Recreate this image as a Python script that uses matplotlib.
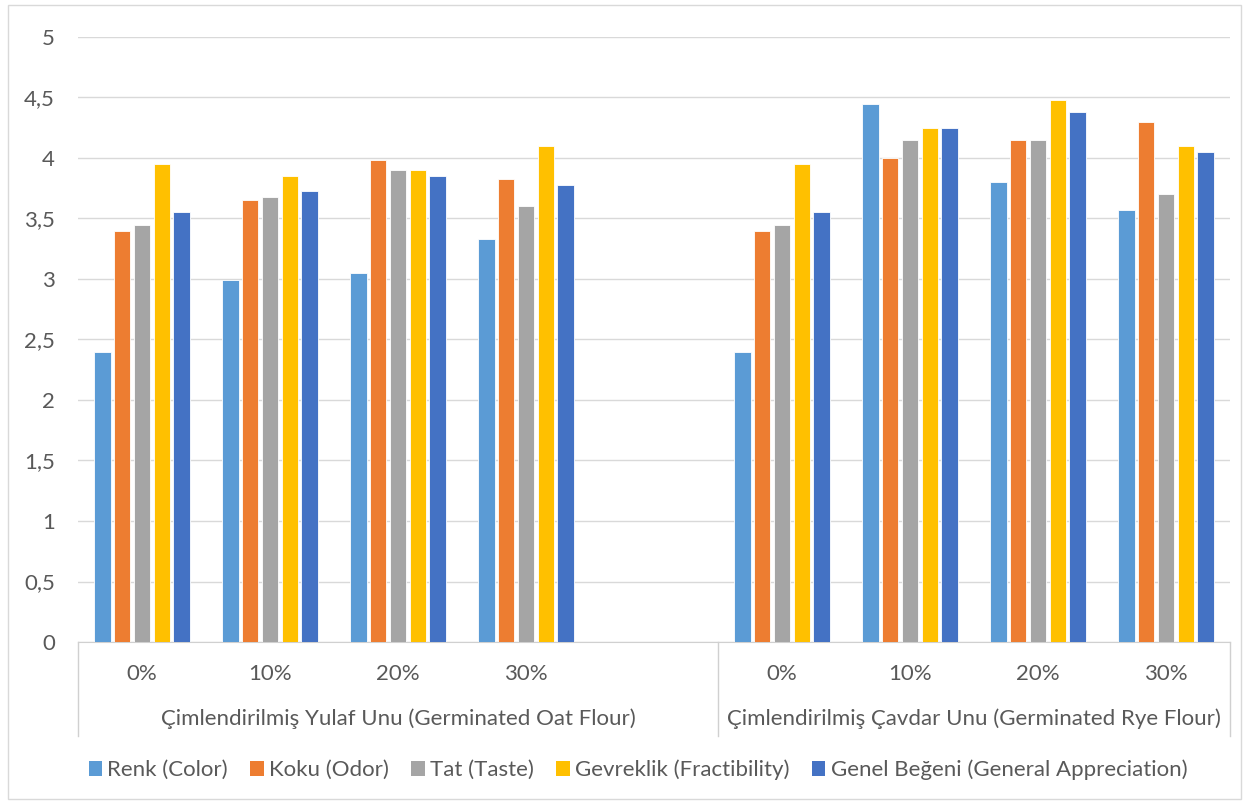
import numpy as np
import matplotlib
matplotlib.use('Agg')
import matplotlib.pyplot as plt
import matplotlib.transforms as mtransforms
from matplotlib.patches import Patch, Rectangle

plt.rcParams['font.family'] = ['Lato', 'DejaVu Sans']

levels = ['0%', '10%', '20%', '30%']
groups = ['Çimlendirilmiş Yulaf Unu (Germinated Oat Flour)',
          'Çimlendirilmiş Çavdar Unu (Germinated Rye Flour)']
series = ['Renk (Color)', 'Koku (Odor)', 'Tat (Taste)',
          'Gevreklik (Fractibility)', 'Genel Beğeni (General Appreciation)']
colors = ['#5B9BD5', '#ED7D31', '#A5A5A5', '#FFC000', '#4472C4']

# oat flour, one list per attribute (0%, 10%, 20%, 30%)
oat_renk = [2.40, 2.99, 3.05, 3.33]
oat_koku = [3.40, 3.65, 3.98, 3.83]
oat_tat = [3.45, 3.68, 3.90, 3.60]
oat_gevreklik = [3.95, 3.85, 3.90, 4.10]
oat_genel = [3.55, 3.73, 3.85, 3.78]

# rye flour
rye_renk = [2.40, 4.45, 3.80, 3.57]
rye_koku = [3.40, 4.00, 4.15, 4.30]
rye_tat = [3.45, 4.15, 4.15, 3.70]
rye_gevreklik = [3.95, 4.25, 4.48, 4.10]
rye_genel = [3.55, 4.25, 4.38, 4.05]

oat = [oat_renk, oat_koku, oat_tat, oat_gevreklik, oat_genel]
rye = [rye_renk, rye_koku, rye_tat, rye_gevreklik, rye_genel]

FS = 16
TXT = '#595959'

W, H = 1250, 805
fig = plt.figure(figsize=(W / 100, H / 100), dpi=100)
fig.patches.append(Rectangle((8 / W, 6 / H), 1233 / W, 794 / H, transform=fig.transFigure,
                             fill=False, edgecolor='#d9d9d9', lw=1))

left, right, top, bottom = 78, 1230, 37, 642
ax = fig.add_axes([left / W, 1 - bottom / H, (right - left) / W, (bottom - top) / H])

# oat categories 0..3, an empty slot at 4, rye categories 5..8
x_oat = np.arange(4)
x_rye = np.arange(5, 9)
pitch = 0.154
width = 0.128
for i in range(5):
    off = (i - 2) * pitch
    ax.bar(x_oat + off, oat[i], width, color=colors[i], edgecolor='white', lw=0.6, zorder=3)
    ax.bar(x_rye + off, rye[i], width, color=colors[i], edgecolor='white', lw=0.6, zorder=3)

ax.set_xlim(-0.5, 8.5)
ax.set_ylim(0, 5)
ax.set_yticks(np.arange(0, 5.01, 0.5))
ax.set_yticklabels(['0', '0,5', '1', '1,5', '2', '2,5', '3', '3,5', '4', '4,5', '5'])
ax.grid(axis='y', color='#d9d9d9', lw=1, zorder=0)
for s in ['top', 'right', 'left']:
    ax.spines[s].set_visible(False)
ax.spines['bottom'].set_color('#d0d0d0')
ax.tick_params(axis='y', length=0, pad=16.5, labelsize=FS, labelcolor=TXT)
ax.set_xticks(list(x_oat) + list(x_rye))
ax.set_xticklabels(levels + levels)
ax.tick_params(axis='x', length=0, pad=16, labelsize=FS, labelcolor=TXT)

# second level of the category axis
trans = mtransforms.blended_transform_factory(ax.transData, ax.transAxes)
for xs in [-0.5, 4.5, 8.5]:
    ax.plot([xs, xs], [0, -0.155], transform=trans, color='#d0d0d0', lw=1, clip_on=False)
ax.text(2.0, -0.127, groups[0], transform=trans, ha='center', va='center',
        fontsize=FS, color=TXT)
ax.text(6.5, -0.127, groups[1], transform=trans, ha='center', va='center',
        fontsize=FS, color=TXT)

handles = [Patch(facecolor=c, edgecolor='none') for c in colors]
fig.legend(handles, series, loc='center', bbox_to_anchor=(638 / W, 1 - 770 / H), ncol=5,
           frameon=False, fontsize=FS, labelcolor=TXT, handlelength=0.6,
           handleheight=0.6, handletextpad=0.25, columnspacing=1.0)

fig.savefig('out.png', dpi=100)
